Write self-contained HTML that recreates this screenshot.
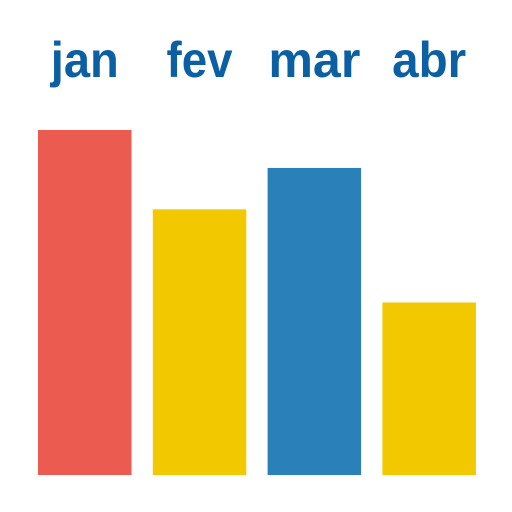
<!DOCTYPE html>
<html><head><meta charset="utf-8">
<style>
html,body{margin:0;padding:0;background:#fff;}
svg{display:block;}
text{font-family:"Liberation Sans",sans-serif;font-weight:bold;fill:#0b5fa3;}
</style></head>
<body>
<svg id="chart" width="512" height="512"></svg>
<script>
const categories = ["jan","fev","mar","abr"];
const values = [100, 77, 89, 50];
const colors = ["#eb5b4f","#f2c800","#2a80b9","#f2c800"];
const labelWidths = [68, 66, 92, 74];

const svg = document.getElementById('chart');
const NS = "http://www.w3.org/2000/svg";
const baseY = 475, plotH = 345, maxV = 100;
const x0 = 38, step = 114.8, barW = 93.5;
function xPos(i){ return x0 + i*step; }
function yPos(v){ return baseY - v/maxV*plotH; }

categories.forEach((c,i)=>{
  const r = document.createElementNS(NS,'rect');
  r.setAttribute('x', xPos(i));
  r.setAttribute('y', yPos(values[i]));
  r.setAttribute('width', barW);
  r.setAttribute('height', baseY - yPos(values[i]));
  r.setAttribute('fill', colors[i]);
  
  
  svg.appendChild(r);

  const t = document.createElementNS(NS,'text');
  t.setAttribute('x', xPos(i) + barW/2);
  t.setAttribute('y', 77);
  t.setAttribute('text-anchor', 'middle');
  t.setAttribute('font-size', '50');
  t.setAttribute('textLength', labelWidths[i]);
  t.setAttribute('lengthAdjust', 'spacingAndGlyphs');
  t.textContent = c;
  
  
  svg.appendChild(t);
});
</script>
</body></html>
